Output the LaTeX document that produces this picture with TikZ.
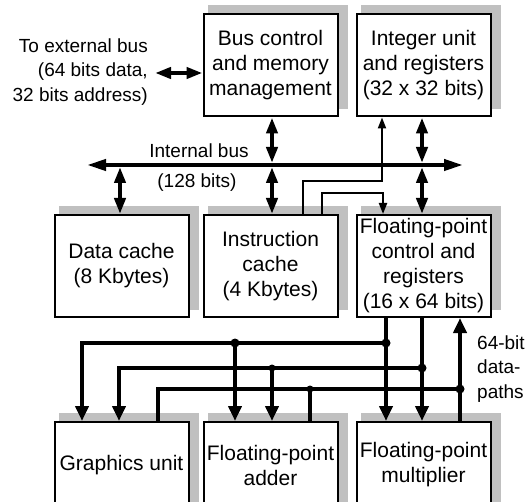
\documentclass[tikz,border=0pt]{standalone}
\usepackage{fontspec}
\setmainfont{Liberation Sans}
\usetikzlibrary{arrows.meta,backgrounds}

\definecolor{shadowgray}{RGB}{192,192,192}

\begin{document}
\begin{tikzpicture}[x=1pt,y=-1pt,
  blockbox/.style={draw, line width=2pt, fill=white, minimum width=134pt,
    minimum height=102pt, inner sep=0pt, align=center,
    font=\fontsize{21}{25}\selectfont},
  lowbox/.style={blockbox, minimum height=86pt},
  notetext/.style={inner sep=0pt, font=\fontsize{19}{24.5}\selectfont},
  busline/.style={line width=4pt,
    {Triangle[length=19pt,width=11pt]}-{Triangle[length=19pt,width=11pt]}},
  duplex/.style={line width=4pt,
    {Triangle[length=16pt,width=11pt]}-{Triangle[length=16pt,width=11pt]}},
  feed/.style={line width=4pt, -{Triangle[length=15pt,width=13pt]}},
  thickline/.style={line width=4pt},
  ctrl/.style={line width=2pt, -{Triangle[length=11pt,width=8pt]}},
  jdot/.style={circle, fill, inner sep=0pt, minimum size=9pt},
  tdot/.style={circle, fill, inner sep=0pt, minimum size=7pt},
]
\clip (0,0) rectangle (527,502);

% functional blocks
\node[blockbox] (bcm) at (270.5,65.5) {Bus control\\and memory\\management};
\node[blockbox] (iu)  at (423.5,65.5) {Integer unit\\and registers\\(32 x 32 bits)};
\node[blockbox] (dc)  at (121.5,266) {Data cache\\(8 Kbytes)};
\node[blockbox] (ic)  at (270.5,266) {Instruction\\cache\\(4 Kbytes)};
\node[blockbox] (fpc) at (423.5,266) {Floating-point\\control and\\registers\\(16 x 64 bits)};
\node[lowbox] (gu)  at (121.5,465) {Graphics unit};
\node[lowbox] (fpa) at (270.5,465) {Floating-point\\adder};
\node[lowbox] (fpm) at (423.5,465) {Floating-point\\multiplier};

% grey offset shadows
\begin{scope}[on background layer]
  \foreach \n in {bcm,iu,dc,ic,fpc}
    \fill[shadowgray] ([xshift=5pt,yshift=8pt]\n.south west)
      rectangle ([xshift=9pt,yshift=8pt]\n.north east);
  \foreach \n in {gu,fpa,fpm}
    \fill[shadowgray] ([xshift=5pt,yshift=8pt]\n.north west)
      rectangle ([xshift=9pt,yshift=-10pt]\n.south east);
\end{scope}

% labels
\node[notetext, anchor=east, align=right] (extlbl) at (148,72)
  {To external bus\\(64 bits data,\\32 bits address)};
\node[notetext] (ibl) at (199,151) {Internal bus};
\node[notetext] (ibw) at (197,183) {(128 bits)};
\node[notetext, anchor=west, align=left] (dpl) at (477,369)
  {64-bit\\data-\\paths};

% reference points
\coordinate (ext)  at (155,73);
\coordinate (busL) at (87,165);
\coordinate (busR) at (463,165);
\coordinate (cDC)  at (120,0);
\coordinate (cBC)  at (272,0);
\coordinate (cIU)  at (422,0);
\coordinate (iA)   at (303,0);
\coordinate (iB)   at (322,0);
\coordinate (ja)   at (382,181);
\coordinate (jb)   at (383,193);

% instruction paths from the instruction cache
\draw[ctrl] (ic.north -| iA) |- (ja) -- (iu.south -| ja);
\draw[ctrl] (ic.north -| iB) |- (jb) -- (fpc.north -| jb);

% external and internal buses
\draw[duplex] (ext) -- (bcm.west |- ext);
\draw[busline] (busL) -- (busR);
\draw[duplex] (bcm.south -| cBC) -- ([yshift=2pt]busL -| cBC);
\draw[duplex] ([yshift=-2pt]busL -| cBC) -- (ic.north -| cBC);
\draw[duplex] ([yshift=-2pt]busL -| cDC) -- (dc.north -| cDC);
\draw[duplex] (iu.south -| cIU) -- ([yshift=2pt]busL -| cIU);
\draw[duplex] ([yshift=-2pt]busL -| cIU) -- (fpc.north -| cIU);

% 64-bit datapaths
\coordinate (o1) at (386,343);
\coordinate (o2) at (422,368);
\coordinate (rt) at (460,389);
\coordinate (aA) at (235,343);
\coordinate (aB) at (272,368);
\coordinate (aC) at (310,389);
\coordinate (gA) at (82,0);
\coordinate (gB) at (119,0);
\coordinate (gC) at (158,0);

\draw[feed] (fpc.south -| o1) -- (fpm.north -| o1);
\draw[feed] (fpc.south -| o2) -- (fpm.north -| o2);
\draw[thickline, -{Triangle[length=15pt,width=13pt]}] (fpm.north -| rt) -- (fpc.south -| rt);

\draw[feed] (o1) -| (gu.north -| gA);
\draw[feed] (aA) -- (fpa.north -| aA);
\draw[feed] (o2) -| (gu.north -| gB);
\draw[feed] (aB) -- (fpa.north -| aB);
\draw[thickline] (gu.north -| gC) |- (rt);
\draw[thickline] (fpa.north -| aC) -- (aC);

\node[jdot] (d1) at (o1) {};
\node[jdot] (d2) at (aA) {};
\node[jdot] (d3) at (o2) {};
\node[tdot] (d4) at (aB) {};
\node[jdot] (d5) at (rt) {};
\node[tdot] (d6) at (aC) {};
\end{tikzpicture}
\end{document}
